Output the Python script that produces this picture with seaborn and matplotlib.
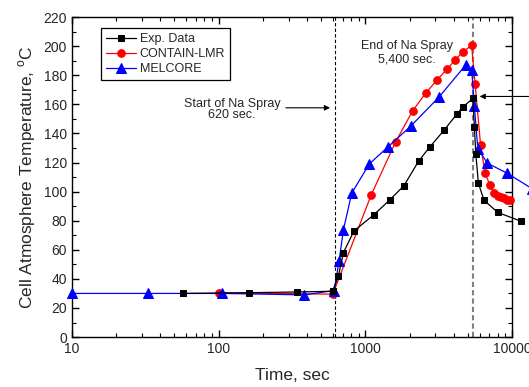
import numpy as np
import pandas as pd
import matplotlib
matplotlib.use('Agg')
import matplotlib.pyplot as plt
import seaborn as sns
from matplotlib.ticker import MultipleLocator, FixedLocator, FixedFormatter, LogLocator, NullFormatter

# Verileri
exp_t = [57, 161, 341, 600, 655, 708, 837, 1141, 1473, 1830, 2309, 2740, 3426, 4183, 4599,
         5400, 5534, 5659, 5894, 6440, 7986, 11450]
exp_T = [30, 30.5, 31, 31.5, 42, 58, 73, 84, 94.5, 104, 121, 130.5, 142, 153, 158,
         164, 144.6, 126, 105.8, 94, 85.7, 79.7]

red_t = [100, 600, 1095, 1610, 2103, 2594, 3097, 3590, 4086, 4610, 5300, 5600, 6100, 6550,
         7085, 7570, 8000, 8380, 8820, 9300, 9690]
red_T = [30.5, 29.5, 97.6, 134.3, 155.6, 168, 177, 184, 190.3, 196, 200.5, 174, 132, 112.6,
         104.2, 99.2, 97.3, 96.2, 95.3, 94.4, 93.9]

blue_t = [10, 33.2, 106, 382, 612, 662, 708, 808, 1064, 1435, 2039, 3178, 4830, 5310, 5534,
          5840, 6790, 9200, 13700]
blue_T = [30, 30, 30, 29, 32, 52, 73.6, 99, 119, 131, 145, 165, 187, 183.5, 158.5,
          129.5, 119.5, 112.8, 102]

series_names = ['Exp. Data', 'CONTAIN-LMR', 'MELCORE']
spray_start = 620
spray_end = 5400
x_ticks = [10, 100, 1000, 10000]
x_tick_labels = ['10', '100', '1000', '10000']

sns.set_style('ticks')
plt.rcParams['font.family'] = ['Liberation Sans', 'DejaVu Sans']

fig = plt.figure(figsize=(5.29, 3.87), dpi=100)
ax = fig.add_axes([0.136, 0.129, 0.832, 0.827])

exp_df = pd.DataFrame({'t': exp_t, 'T': exp_T})
red_df = pd.DataFrame({'t': red_t, 'T': red_T})
blue_df = pd.DataFrame({'t': blue_t, 'T': blue_T})

# seri cizimleri (sag kenarin disina tasabiliyor)
sns.lineplot(data=red_df, x='t', y='T', ax=ax, color='red', marker='o', markersize=5.5,
             markeredgecolor='red', linewidth=0.9, clip_on=False, zorder=3, label=series_names[1])
sns.lineplot(data=blue_df, x='t', y='T', ax=ax, color='blue', marker='^', markersize=6.5,
             markeredgecolor='blue', linewidth=0.9, clip_on=False, zorder=4, label=series_names[2])
sns.lineplot(data=exp_df, x='t', y='T', ax=ax, color='black', marker='s', markersize=5,
             markeredgecolor='black', linewidth=0.9, clip_on=False, zorder=5, label=series_names[0])

# dikey cizgiler
ax.axvline(spray_start, color='black', linestyle=(0, (3, 2)), linewidth=0.8, zorder=2)
ax.axvline(spray_end, color='#808080', linestyle=(0, (2.5, 1.5)), linewidth=1.5, zorder=2)

# aciklamalar
ax.text(123, 156.5, 'Start of Na Spray\n620 sec.', ha='center', va='center', fontsize=9,
        linespacing=0.95)
ax.annotate('', xy=(600, 157.6), xytext=(275, 157.6),
            arrowprops=dict(arrowstyle='-|>', color='black', lw=0.8, mutation_scale=8))
ax.text(1914, 195.6, 'End of Na Spray\n5,400 sec.', ha='center', va='center', fontsize=9)
ax.annotate('', xy=(5750, 165.4), xytext=(1.06, 165.4),
            textcoords=('axes fraction', 'data'),
            arrowprops=dict(arrowstyle='-|>', color='black', lw=0.8, mutation_scale=8),
            annotation_clip=False)

ax.set_xscale('log')
ax.set_xlim(10, 10000)
ax.set_ylim(0, 220)
ax.xaxis.set_major_locator(FixedLocator(x_ticks))
ax.xaxis.set_major_formatter(FixedFormatter(x_tick_labels))
ax.xaxis.set_minor_locator(LogLocator(base=10, subs=np.arange(2, 10)))
ax.xaxis.set_minor_formatter(NullFormatter())
ax.yaxis.set_major_locator(MultipleLocator(20))
ax.yaxis.set_minor_locator(MultipleLocator(10))

ax.tick_params(which='both', direction='in', top=True, right=True, labelsize=10, color='black')
ax.tick_params(which='major', length=5, width=1)
ax.tick_params(which='minor', length=3, width=0.8)
for sp in ax.spines.values():
    sp.set_linewidth(1.0)
    sp.set_color('black')

ax.set_xlabel('Time, sec', fontsize=12.5, labelpad=9)
ax.set_ylabel('Cell Atmosphere Temperature, $^\\mathregular{o}$C', fontsize=12.5, labelpad=4)

# lejant
h, l = ax.get_legend_handles_labels()
order = [l.index(n) for n in series_names]
leg = ax.legend([h[i] for i in order], [l[i] for i in order], loc='upper left',
                bbox_to_anchor=(0.052, 0.985), fontsize=9, frameon=True, fancybox=False,
                edgecolor='black', framealpha=1, handlelength=2.4, borderpad=0.4,
                labelspacing=0.25, handletextpad=0.3)
leg.get_frame().set_linewidth(0.9)

plt.savefig('out.png', dpi=100)
